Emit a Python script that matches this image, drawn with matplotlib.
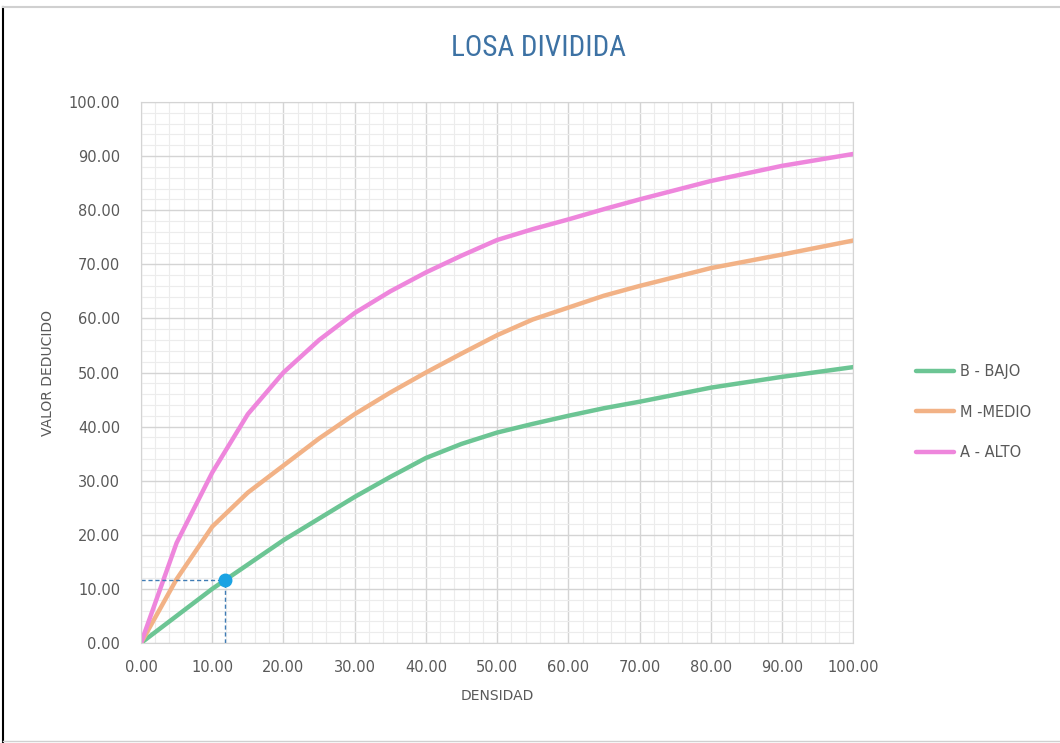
import matplotlib.pyplot as plt
from matplotlib import font_manager
from matplotlib.lines import Line2D
from matplotlib.ticker import MultipleLocator, FormatStrFormatter

densidad = [0, 5, 10, 15, 20, 25, 30, 35, 40, 45, 50, 55, 60, 65, 70, 80, 90, 100]
bajo = [0, 5, 10, 14.5, 19, 23, 27, 30.7, 34.2, 36.8, 38.9, 40.5, 42, 43.4, 44.6, 47.2, 49.2, 51]
medio = [0, 11.8, 21.5, 27.8, 32.8, 37.8, 42.3, 46.3, 50, 53.5, 56.9, 59.8, 62, 64.2, 66, 69.3, 71.8, 74.4]
alto = [0, 18.5, 31.5, 42.3, 50, 56, 61, 65, 68.5, 71.6, 74.5, 76.5, 78.3, 80.2, 82, 85.4, 88.2, 90.4]

punto_x = 11.8
punto_y = 11.6


def fuente_estrecha():
    for nombre in ["Liberation Sans Narrow", "DejaVu Sans Condensed", "Roboto Condensed"]:
        try:
            font_manager.findfont(nombre, fallback_to_default=False)
            return nombre, 21
        except ValueError:
            pass
    return "DejaVu Sans", 16.5


fam_titulo, tam_titulo = fuente_estrecha()

fig = plt.figure(figsize=(10.6, 7.43), dpi=100)
ax = fig.add_axes([0.133, 0.1346, 0.672, 0.7281])

ax.plot(densidad, bajo, color="#6cc594", lw=3.2, label="B - BAJO", solid_capstyle="round")
ax.plot(densidad, medio, color="#f2b286", lw=3.2, label="M -MEDIO", solid_capstyle="round")
ax.plot(densidad, alto, color="#ee86dc", lw=3.2, label="A - ALTO", solid_capstyle="round")

ax.plot([0, punto_x], [punto_y, punto_y], color="#3f7cb5", lw=1, ls=(0, (3, 2)))
ax.plot([punto_x, punto_x], [0, punto_y], color="#3f7cb5", lw=1, ls=(0, (3, 2)))
ax.plot(punto_x, punto_y, "o", color="#1ba3e3", ms=9, zorder=5)

ax.set_xlim(0, 100)
ax.set_ylim(0, 100)
ax.xaxis.set_major_locator(MultipleLocator(10))
ax.yaxis.set_major_locator(MultipleLocator(10))
ax.xaxis.set_minor_locator(MultipleLocator(2))
ax.yaxis.set_minor_locator(MultipleLocator(2))
ax.xaxis.set_major_formatter(FormatStrFormatter("%.2f"))
ax.yaxis.set_major_formatter(FormatStrFormatter("%.2f"))
ax.grid(which="major", color="#d4d4d4", lw=1)
ax.grid(which="minor", color="#ececec", lw=0.8)
ax.set_axisbelow(True)
ax.tick_params(which="both", length=0, labelsize=10.5, labelcolor="#595959")
ax.tick_params(axis="x", pad=12)
ax.tick_params(axis="y", pad=15)
for s in ax.spines.values():
    s.set_color("#d4d4d4")

ax.set_xlabel("DENSIDAD", fontsize=10, color="#595959", labelpad=10)
ax.set_ylabel("VALOR DEDUCIDO", fontsize=10, color="#595959", labelpad=10)

fig.text(0.508, 0.935, "LOSA DIVIDIDA", ha="center", va="center", fontsize=tam_titulo,
         color="#3d72a4", family=fam_titulo)

ax.legend(loc="upper left", bbox_to_anchor=(1.07, 0.54), frameon=False,
          fontsize=10.5, labelcolor="#595959", handlelength=2.6,
          labelspacing=1.75, handletextpad=0.4)

# marco exterior
fig.add_artist(Line2D([0.003, 0.003], [0.0, 0.99], color="black", lw=1.5))
fig.add_artist(Line2D([0.003, 1.0], [0.99, 0.99], color="#d0d0d0", lw=1.5))
fig.add_artist(Line2D([0.003, 1.0], [0.003, 0.003], color="#d0d0d0", lw=1))

fig.savefig("out.png", dpi=100)
